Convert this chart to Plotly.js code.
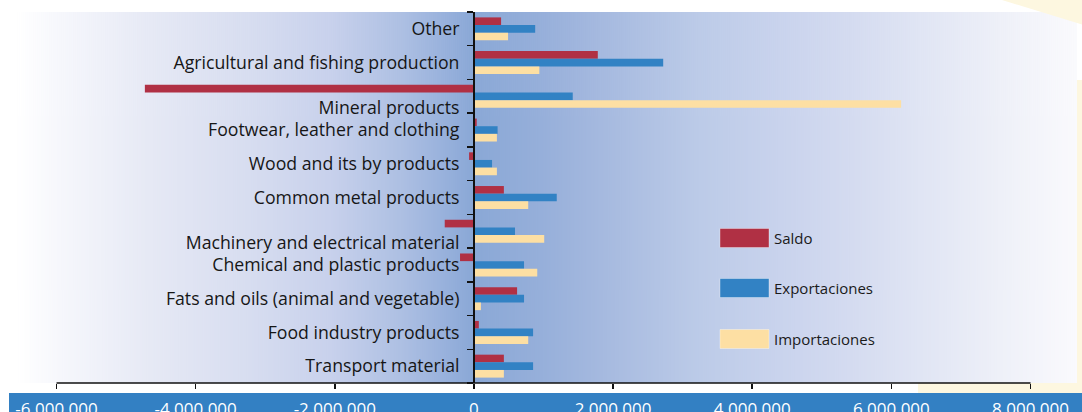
<!DOCTYPE html>
<html><head><meta charset="utf-8">
<script src="https://cdn.plot.ly/plotly-3.0.1.min.js"></script>
<style>html,body{margin:0;padding:0;background:#fff;overflow:hidden}</style>
</head><body><div id="chart" style="width:1082px;height:412px"></div>
<script>
// ---- data ----
const categories = [
  'Other',
  'Agricultural and fishing production',
  'Mineral products',
  'Footwear, leather and clothing',
  'Wood and its by products',
  'Common metal products',
  'Machinery and electrical material',
  'Chemical and plastic products',
  'Fats and oils (animal and vegetable)',
  'Food industry products',
  'Transport material'
];
const yTickLabels = [
  'Other',
  'Agricultural and fishing production',
  ' <br>Mineral products',
  'Footwear, leather and clothing',
  'Wood and its by products',
  'Common metal products',
  ' <br>Machinery and electrical material',
  'Chemical and plastic products',
  'Fats and oils (animal and vegetable)',
  'Food industry products',
  'Transport material'
];
const saldo         = [390000, 1780000, -4730000, 40000, -70000, 430000, -420000, -200000, 620000, 70000, 430000];
const exportaciones = [880000, 2720000, 1420000, 340000, 260000, 1190000, 590000, 720000, 720000, 850000, 850000];
const importaciones = [490000, 940000, 6140000, 330000, 330000, 780000, 1010000, 910000, 100000, 780000, 430000];
const seriesNames = ['Saldo', 'Exportaciones', 'Importaciones'];
const xTickValues = [-6000000, -4000000, -2000000, 0, 2000000, 4000000, 6000000, 8000000];
const xTickLabels = ['-6,000,000', '-4,000,000', '-2,000,000', '0', '2,000,000', '4,000,000', '6,000,000', '8,000,000'];

// ---- style ----
const colors = ['#b03044', '#3282c4', '#fddfa3'];
const W = 1082, H = 412;
const L = 17, R = 5, T = 12, B = 29;
const PW = W - L - R, PH = H - T - B;
const px = x => (x - L) / PW;
const py = y => 1 - (y - T) / PH;
const FONT = 'Open Sans, Noto Sans, sans-serif';

// gradient background via canvas
const cv = document.createElement('canvas');
cv.width = PW; cv.height = 2;
const ctx = cv.getContext('2d');
const g = ctx.createLinearGradient(0, 0, PW, 0);
const stops = [
  [17, '#ffffff'], [60, '#f6f7fc'], [150, '#e6e9f5'], [250, '#d7ddf0'],
  [330, '#c8d1ec'], [400, '#aec0e3'], [445, '#98b1dc'], [473, '#8aa8d6'],
  [540, '#96afda'], [600, '#a5b9df'], [700, '#bccbe8'], [780, '#c9d3ed'],
  [850, '#d4dbf0'], [920, '#e0e5f4'], [1000, '#eef0f8'], [1077, '#fafafd']
];
stops.forEach(s => g.addColorStop(Math.min(1, Math.max(0, px(s[0]))), s[1]));
ctx.fillStyle = g; ctx.fillRect(0, 0, PW, 2);
const bgURL = cv.toDataURL('image/png');

const series = [saldo, exportaciones, importaciones];
const traces = series.map((vals, i) => ({
  type: 'bar', orientation: 'h', name: seriesNames[i],
  y: categories, x: vals,
  marker: {color: colors[i], line: {width: 0}},
  hoverinfo: 'none'
}));

const yellow = '#fdf7e0';
const shapes = [
  // decorative page background
  {type: 'path', xref: 'paper', yref: 'paper', layer: 'below', line: {width: 0}, fillcolor: yellow,
   path: `M ${px(1002)} ${py(0)} L ${px(1090)} ${py(0)} L ${px(1090)} ${py(27)} Z`},
  {type: 'rect', xref: 'paper', yref: 'paper', layer: 'below', line: {width: 0}, fillcolor: yellow,
   x0: px(1077), x1: px(1090), y0: py(80), y1: py(394)},
  {type: 'rect', xref: 'paper', yref: 'paper', layer: 'below', line: {width: 0}, fillcolor: yellow,
   x0: px(918), x1: px(1090), y0: py(383), y1: py(394)},
  // blue band behind x tick labels
  {type: 'rect', xref: 'paper', yref: 'paper', layer: 'below', line: {width: 0}, fillcolor: '#3380c3',
   x0: px(9), x1: px(1090), y0: py(393), y1: py(420)},
  // x axis line from first to last tick
  {type: 'line', xref: 'x', yref: 'paper', layer: 'above',
   x0: xTickValues[0], x1: xTickValues[xTickValues.length - 1], y0: 0, y1: 0,
   line: {color: '#111111', width: 1.5}}
];
// custom legend
const legendY = [238, 288, 339];
const annotations = [];
seriesNames.forEach((n, i) => {
  shapes.push({type: 'rect', xref: 'paper', yref: 'paper', layer: 'above',
    x0: px(720), x1: px(769), y0: py(legendY[i] - 9.5), y1: py(legendY[i] + 9.5),
    fillcolor: colors[i], line: {color: 'rgba(255,255,255,0.35)', width: 1}});
  annotations.push({xref: 'paper', yref: 'paper', x: px(772), y: py(legendY[i]),
    xanchor: 'left', yanchor: 'middle', showarrow: false, text: n,
    font: {family: FONT, size: 15, color: '#1a1a1a'}});
});

const layout = {
  width: W, height: H,
  margin: {l: L, r: R, t: T, b: B, pad: 0},
  paper_bgcolor: '#ffffff', plot_bgcolor: 'rgba(0,0,0,0)',
  showlegend: false,
  barmode: 'group', bargap: 0.32, bargroupgap: 0,
  font: {family: FONT, size: 17, color: '#1a1a1a'},
  xaxis: {
    range: [-6568000, 8668000], fixedrange: true,
    tickmode: 'array', tickvals: xTickValues, ticktext: xTickLabels,
    ticks: 'outside', ticklen: 5, tickwidth: 1.5, tickcolor: '#111111',
    showline: false, zeroline: false, showgrid: false,
    tickfont: {family: FONT, size: 17, color: '#ffffff'},
    ticklabelstandoff: 6
  },
  yaxis: {
    type: 'category', categoryorder: 'array', categoryarray: categories,
    range: [10.5, -0.5], fixedrange: true,
    anchor: 'free', position: px(473),
    tickmode: 'array', tickvals: categories, ticktext: yTickLabels,
    tickson: 'boundaries', ticks: 'outside', ticklen: 6, tickwidth: 1.5, tickcolor: '#111111',
    showline: true, linecolor: '#111111', linewidth: 1.5,
    zeroline: false, showgrid: false,
    tickfont: {family: FONT, size: 17.7, color: '#161616'},
    ticklabelstandoff: 10
  },
  images: [{source: bgURL, xref: 'paper', yref: 'paper', x: 0, y: 1, sizex: 1, sizey: 1,
    sizing: 'stretch', layer: 'below', xanchor: 'left', yanchor: 'top'}],
  shapes: shapes,
  annotations: annotations
};

Plotly.newPlot('chart', traces, layout, {staticPlot: true, displayModeBar: false});
</script></body></html>
